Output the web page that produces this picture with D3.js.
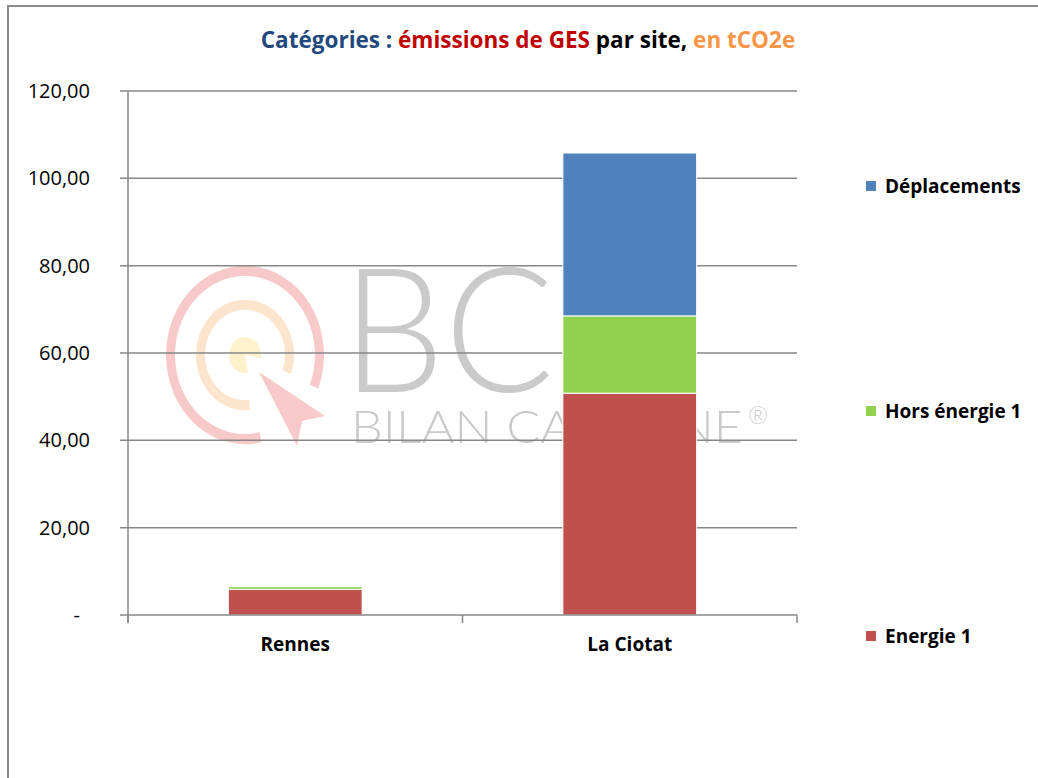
<!DOCTYPE html>
<html>
<head>
<meta charset="utf-8">
<script src="https://cdn.jsdelivr.net/npm/d3@7"></script>
<style>
  body { margin: 0; background: #fff; }
  text { font-family: 'Open Sans', 'Liberation Sans', sans-serif; }
</style>
</head>
<body>
<div id="chart"></div>
<script>
const sites = ['Rennes', 'La Ciotat']
const categories = ['Energie 1', 'Hors énergie 1', 'Déplacements']
const energie = [5.9, 50.8]
const horsEnergie = [0.6, 17.7]
const deplacements = [0, 37.3]
const yTicks = [0, 20, 40, 60, 80, 100, 120]
const colors = ['#c0504d', '#92d050', '#4f81bd']

const width = 1038
const height = 778
const plotLeft = 128
const plotRight = 797
const plotTop = 91
const plotBottom = 615

const svg = d3.select('#chart').append('svg')
  .attr('width', width)
  .attr('height', height)

// cadre du graphique
svg.append('path')
  .attr('d', `M8,${height} L8,6 L${width},6`)
  .attr('fill', 'none')
  .attr('stroke', '#8c8c8c')
  .attr('stroke-width', 2)

// titre
const title = svg.append('text')
  .attr('x', 528)
  .attr('y', 48)
  .attr('text-anchor', 'middle')
  .style('font-size', '22.5px')
  .style('font-weight', 'bold')
const parts = [
  ['Catégories : ', '#1f497d'],
  ['émissions de GES ', '#c00000'],
  ['par site, ', '#000'],
  ['en tCO2e', '#f79646']
]
parts.forEach(function (p) {
  title.append('tspan').attr('fill', p[1]).text(p[0])
})

// filigrane
const deg = Math.PI / 180
const wm = svg.append('g')
const logo = wm.append('g')
  .attr('transform', 'translate(245,355) scale(1,1.13)')
logo.append('path')
  .attr('d', d3.arc()({ innerRadius: 70, outerRadius: 79, startAngle: 168 * deg, endAngle: 472 * deg }))
  .attr('fill', '#f8c9c9')
logo.append('path')
  .attr('d', d3.arc()({ innerRadius: 40, outerRadius: 49, startAngle: 174 * deg, endAngle: 470 * deg }))
  .attr('fill', '#fde4cc')
logo.append('path')
  .attr('d', d3.arc()({ innerRadius: 0, outerRadius: 16, startAngle: 170 * deg, endAngle: 460 * deg }))
  .attr('fill', '#fef1cc')
wm.append('path')
  .attr('d', 'M259,372 L325,416 L302,421 L297,446 Z')
  .attr('fill', '#f8c9c9')
wm.append('text')
  .attr('x', 342).attr('y', 392)
  .attr('fill', '#cacaca')
  .attr('textLength', 212)
  .attr('lengthAdjust', 'spacingAndGlyphs')
  .style('font-family', 'Lato, sans-serif')
  .style('font-weight', 300)
  .style('font-size', '174px')
  .text('BC')
wm.append('text')
  .attr('x', 351).attr('y', 443)
  .attr('fill', '#cacaca')
  .attr('textLength', 392)
  .attr('lengthAdjust', 'spacingAndGlyphs')
  .style('font-family', 'Lato, sans-serif')
  .style('font-weight', 300)
  .style('font-size', '46px')
  .text('BILAN CARBONE')
wm.append('text')
  .attr('x', 748).attr('y', 424)
  .attr('fill', '#cacaca')
  .style('font-family', 'Lato, sans-serif')
  .style('font-weight', 300)
  .style('font-size', '24px')
  .text('®')

const y = d3.scaleLinear().domain([0, 120]).range([plotBottom, plotTop])
const x = d3.scaleBand().domain(sites).range([plotLeft, plotRight])
  .paddingInner(0.6).paddingOuter(0.3)

const fr = d3.formatLocale({ decimal: ',', thousands: ' ', grouping: [3], currency: ['', '€'] })
const fmt = fr.format('.2f')

// grille
svg.append('g').selectAll('line')
  .data(yTicks.filter(function (d) { return d > 0 }))
  .enter().append('line')
  .attr('x1', plotLeft - 8)
  .attr('x2', plotRight)
  .attr('y1', function (d) { return y(d) })
  .attr('y2', function (d) { return y(d) })
  .attr('stroke', '#878787')
  .attr('stroke-width', 1.5)

svg.append('g').selectAll('text')
  .data(yTicks)
  .enter().append('text')
  .attr('x', function (d) { return d === 0 ? 80 : 90 })
  .attr('y', function (d) { return y(d) + 7 })
  .attr('text-anchor', 'end')
  .style('font-size', '20px')
  .attr('fill', '#000')
  .text(function (d) { return d === 0 ? '-' : fmt(d) })

// barres empilées
const rows = sites.map(function (s, i) {
  return { site: s, 'Energie 1': energie[i], 'Hors énergie 1': horsEnergie[i], 'Déplacements': deplacements[i] }
})
const stack = d3.stack().keys(categories)(rows)

svg.append('g').selectAll('g')
  .data(stack)
  .enter().append('g')
  .attr('fill', function (d, i) { return colors[i] })
  .selectAll('rect')
  .data(function (d) { return d })
  .enter().append('rect')
  .attr('x', function (d) { return x(d.data.site) })
  .attr('width', x.bandwidth())
  .attr('y', function (d) { return y(d[1]) })
  .attr('height', function (d) { return Math.max(0, y(d[0]) - y(d[1])) })
  .attr('stroke', '#fff')
  .attr('stroke-width', function (d) { return d[1] - d[0] > 0 ? 1 : 0 })

// axes
svg.append('line')
  .attr('x1', plotLeft).attr('x2', plotLeft)
  .attr('y1', plotTop).attr('y2', plotBottom + 8)
  .attr('stroke', '#878787').attr('stroke-width', 1.5)
svg.append('line')
  .attr('x1', plotLeft - 8).attr('x2', plotRight)
  .attr('y1', plotBottom).attr('y2', plotBottom)
  .attr('stroke', '#878787').attr('stroke-width', 1.5)
svg.append('g').selectAll('line')
  .data([0, 1, 2])
  .enter().append('line')
  .attr('x1', function (d) { return plotLeft + d * x.step() })
  .attr('x2', function (d) { return plotLeft + d * x.step() })
  .attr('y1', plotBottom)
  .attr('y2', plotBottom + 8)
  .attr('stroke', '#878787').attr('stroke-width', 1.5)

svg.append('g').selectAll('text')
  .data(sites)
  .enter().append('text')
  .attr('x', function (d) { return x(d) + x.bandwidth() / 2 })
  .attr('y', 651)
  .attr('text-anchor', 'middle')
  .style('font-size', '19px')
  .style('font-weight', 'bold')
  .text(function (d) { return d })

// légende
const legendY = { 'Déplacements': 187, 'Hors énergie 1': 412, 'Energie 1': 637 }
const legend = svg.append('g').selectAll('g')
  .data(categories)
  .enter().append('g')
  .attr('transform', function (d) { return `translate(866,${legendY[d]})` })
legend.append('rect')
  .attr('x', 0).attr('y', -6)
  .attr('width', 10).attr('height', 10)
  .attr('fill', function (d, i) { return colors[i] })
legend.append('text')
  .attr('x', 19).attr('y', 6)
  .style('font-size', '19px')
  .style('font-weight', 'bold')
  .text(function (d) { return d })
</script>
</body>
</html>
